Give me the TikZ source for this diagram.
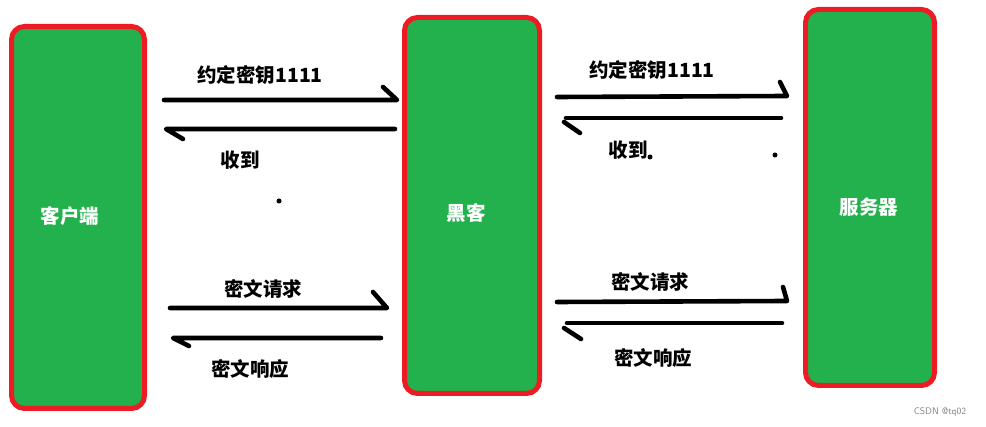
\documentclass[tikz,border=0pt]{standalone}
\usepackage{fontspec}
\newfontfamily\cjk{Noto Sans CJK SC}
\definecolor{boxgreen}{HTML}{22B14C}
\definecolor{boxred}{HTML}{ED1C24}
\begin{document}
\begin{tikzpicture}[x=1pt,y=-1pt,
  box/.style={draw=boxred, fill=boxgreen, line width=5pt, rounded corners=13pt, rectangle, inner sep=0pt},
  boxlabel/.style={text=white, font=\cjk\bfseries\fontsize{19.5}{19.5}\selectfont, inner sep=0pt},
  msg/.style={text=black, font=\cjk\bfseries\fontsize{19.5}{19.5}\selectfont, inner sep=0pt},
  stroke/.style={line width=4.6pt, line cap=round, line join=round, black},
  dotmark/.style={circle, fill=black, inner sep=0pt, minimum size=5pt}
]
\useasboundingbox (0,0) rectangle (986,427);
\fill[white] (0,0) rectangle (986,427);

% boxes
\node[box, minimum width=133pt, minimum height=382pt] (client) at (78,217.5) {};
\node[box, minimum width=135pt, minimum height=376pt] (hacker) at (472,205.5) {};
\node[box, minimum width=129pt, minimum height=376pt] (server) at (870,197.5) {};

\node[boxlabel] (lc) at (70,216) {客户端};
\node[boxlabel] (lh) at (466,213) {黑客};
\node[boxlabel] (ls) at (869,207) {服务器};

% arrow coordinates: top-left
\coordinate (a1s) at (164,100); \coordinate (a1t) at (397,100); \coordinate (a1b) at (383,87);
\coordinate (a2s) at (395,129); \coordinate (a2t) at (166,129); \coordinate (a2b) at (183,139);
% top-right
\coordinate (a3s) at (557,97); \coordinate (a3t) at (787,96); \coordinate (a3b) at (780,82);
\coordinate (a4s) at (781,118); \coordinate (a4t) at (566,118); \coordinate (a4p) at (564,122); \coordinate (a4b) at (580,133);
% bottom-left
\coordinate (a5s) at (170,308); \coordinate (a5t) at (387,308); \coordinate (a5b) at (373,292);
\coordinate (a6s) at (381,338); \coordinate (a6t) at (173,338); \coordinate (a6b) at (189,346);
% bottom-right
\coordinate (a7s) at (557,302); \coordinate (a7t) at (787,301); \coordinate (a7b) at (783,287);
\coordinate (a8s) at (782,323); \coordinate (a8t) at (567,323); \coordinate (a8p) at (564,328); \coordinate (a8b) at (581,339);

\draw[stroke] (a1s) -- (a1t) -- (a1b);
\draw[stroke] (a2s) -- (a2t) -- (a2b);
\draw[stroke] (a3s) -- (a3t) -- (a3b);
\draw[stroke] (a4s) -- (a4t);
\draw[stroke] (a4p) -- (a4b);
\draw[stroke] (a5s) -- (a5t) -- (a5b);
\draw[stroke] (a6s) -- (a6t) -- (a6b);
\draw[stroke] (a7s) -- (a7t) -- (a7b);
\draw[stroke] (a8s) -- (a8t);
\draw[stroke] (a8p) -- (a8b);

% labels
\node[msg] (m1) at (260,75) {约定密钥1111};
\node[msg] (m2) at (240,160) {收到};
\node[msg] (m3) at (652,70) {约定密钥1111};
\node[msg] (m4) at (628,150) {收到};
\node[msg] (m5) at (263,289) {密文请求};
\node[msg] (m6) at (250,369) {密文响应};
\node[msg] (m7) at (650,282) {密文请求};
\node[msg] (m8) at (653,358) {密文响应};

% stray dots
\node[dotmark] (d1) at (279,201) {};
\node[dotmark] (d2) at (650,157) {};
\node[dotmark] (d3) at (775,155) {};

% watermark
\node[text=gray, font=\fontsize{9.5}{9.5}\selectfont\sffamily, inner sep=0pt] (wm) at (940,412) {CSDN @tq02};
\end{tikzpicture}
\end{document}
